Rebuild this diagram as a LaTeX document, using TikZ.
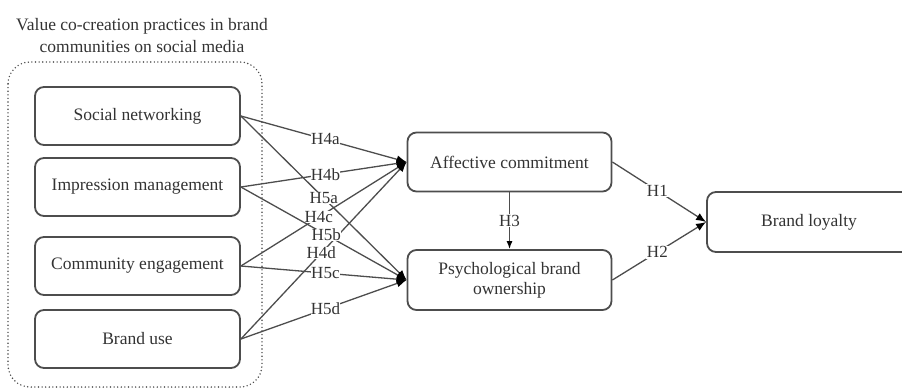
\documentclass[tikz,border=0pt]{standalone}
\usepackage{fontspec}
\setmainfont{Liberation Serif}
\usetikzlibrary{arrows.meta}
\definecolor{inkgray}{HTML}{333333}
\definecolor{linegray}{HTML}{4D4D4D}
\tikzset{
  construct/.style={draw=linegray, line width=1.8pt, rounded corners=9pt,
    minimum height=58pt, align=center, text=inkgray, font=\fontsize{17.5}{20}\selectfont},
  path/.style={draw=linegray, line width=1.3pt,
    -{Latex[length=10pt,width=8pt,color=black]}},
  hyp/.style={fill=white, inner sep=0pt, text=inkgray, font=\fontsize{17}{19}\selectfont},
}
\begin{document}
\begin{tikzpicture}[x=1pt,y=-1pt]
\useasboundingbox (0,0) rectangle (902,389);
\clip (0,0) rectangle (902,389);

% group heading and dotted frame
\node[text=inkgray, align=center, font=\fontsize{17.5}{22}\selectfont] (grp) at (142,36)
  {Value co-creation practices in brand\\communities on social media};
\draw[linegray, line width=1.6pt, line cap=round, dash pattern=on 0pt off 3.6pt,
  rounded corners=22pt] (8,62) rectangle (262,387);

% antecedents
\node[construct, minimum width=205pt] (sn) at (137.5,116) {Social networking};
\node[construct, minimum width=205pt] (im) at (137.5,187) {Impression management};
\node[construct, minimum width=205pt] (ce) at (137.5,266) {Community engagement};
\node[construct, minimum width=205pt] (bu) at (137.5,339) {Brand use};

% mediators and outcome
\node[construct, minimum width=204pt, minimum height=59pt] (ac) at (509.5,162) {Affective commitment};
\node[construct, minimum width=204pt, minimum height=60pt] (pbo) at (509.5,280) {Psychological brand\\ownership};
\node[construct, minimum width=204pt, minimum height=60pt] (bl) at (809,222) {Brand loyalty};

% hypothesised paths
\draw[path] (sn.east) -- node[hyp, pos=0.51] {H4a} (ac.west);
\draw[path] (im.east) -- node[hyp, pos=0.51] {H4b} (ac.west);
\draw[path] (ce.east) -- node[hyp, pos=0.47] {H4c} (ac.west);
\draw[path] (bu.east) -- node[hyp, pos=0.485] {H4d} (ac.west);
\draw[path] (sn.east) -- node[hyp, pos=0.50] {H5a} (pbo.west);
\draw[path] (im.east) -- node[hyp, pos=0.515] {H5b} (pbo.west);
\draw[path] (ce.east) -- node[hyp, pos=0.51] {H5c} (pbo.west);
\draw[path] (bu.east) -- node[hyp, pos=0.51] {H5d} (pbo.west);
\draw[path, -{Latex[length=8pt,width=6pt,color=black]}] (ac.south) -- node[hyp, inner sep=1pt] {H3} (pbo.north);
\draw[path] (ac.east) -- node[hyp, pos=0.48, inner sep=1pt] {H1} (bl.west);
\draw[path] (pbo.east) -- node[hyp, pos=0.48, inner sep=1pt] {H2} (bl.west);
\end{tikzpicture}
\end{document}
